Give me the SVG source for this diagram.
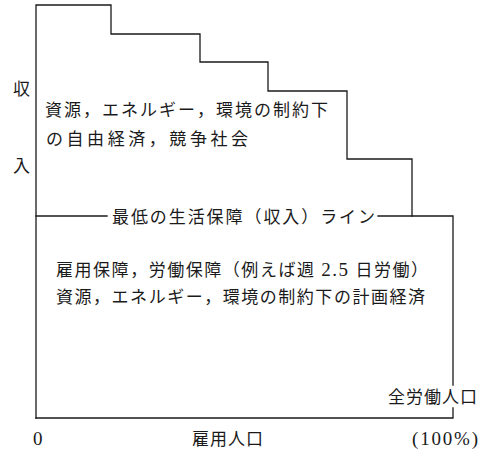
<svg xmlns="http://www.w3.org/2000/svg" width="481" height="449" viewBox="0 0 481 449">
<style>
.ln{fill:none;stroke:#1a1a1a;stroke-width:1.3;stroke-linecap:square}
text{font-family:"Liberation Serif","Noto Sans CJK JP",serif;font-size:17px;fill:#1a1a1a}
.num{font-size:19px}
</style>
<rect width="481" height="449" fill="#fff"/>
<g id="connectors">
<path class="ln" d="M36,418 V5 H111 V34 H200 V62 H268 V91 H347 V159 H412 V216 H453 V385"/>
<path class="ln" d="M453,408 V418 H36"/>
<path class="ln" d="M36,216 H107"/>
<path class="ln" d="M378,216 H412"/>
</g>
<g id="axis-y">
<text x="13" y="95">収</text>
<text x="13" y="172">入</text>
</g>
<g id="market-region">
<text x="45" y="116" textLength="283" lengthAdjust="spacing">資源，エネルギー，環境の制約下</text>
<text x="46" y="145" textLength="202" lengthAdjust="spacing">の自由経済，競争社会</text>
</g>
<g id="min-line-label">
<text x="112" y="223" textLength="263" lengthAdjust="spacing">最低の生活保障（収入）ライン</text>
</g>
<g id="planned-region">
<text x="56" y="276" textLength="372" lengthAdjust="spacing">雇用保障，労働保障（例えば週 <tspan class="num">2.5</tspan> 日労働）</text>
<text x="56" y="303" textLength="369" lengthAdjust="spacing">資源，エネルギー，環境の制約下の計画経済</text>
</g>
<g id="axis-x">
<text x="388" y="403" textLength="89" lengthAdjust="spacing">全労働人口</text>
<text class="num" x="33" y="445">0</text>
<text x="192" y="445" textLength="71" lengthAdjust="spacing">雇用人口</text>
<text class="num" x="412" y="445" textLength="66" lengthAdjust="spacing">(100%)</text>
</g>
</svg>
